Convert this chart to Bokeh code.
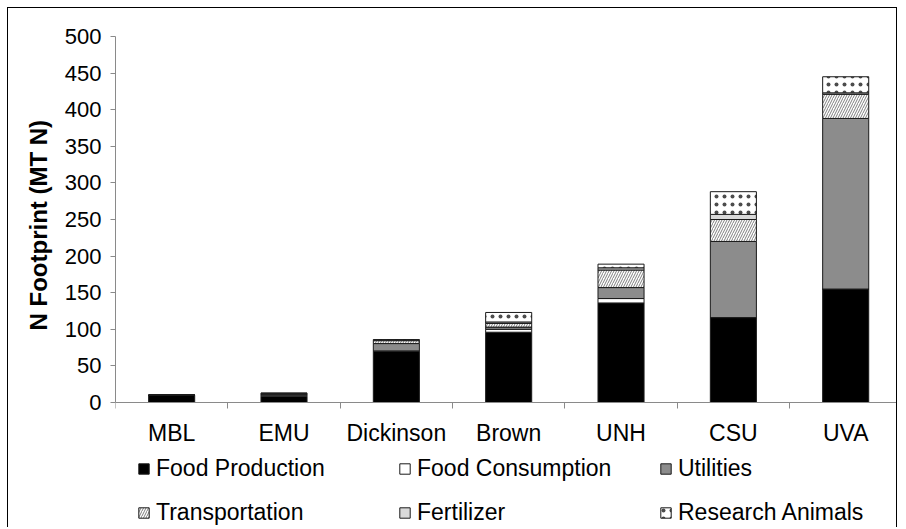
import numpy as np
from bokeh.plotting import figure
from bokeh.models import (Range1d, FixedTicker, Legend, LegendItem, Title)
from bokeh.embed import file_html
from bokeh.resources import INLINE

# ---- data ----
categories = ["MBL", "EMU", "Dickinson", "Brown", "UNH", "CSU", "UVA"]
food_production = [10, 8.5, 70, 96, 136, 116, 155]
food_consumption = [0, 1.5, 0.5, 4, 6, 0, 0]
utilities = [0, 1.5, 10, 3, 15, 104, 233]
transportation = [0, 0.5, 4, 5, 24, 30, 33]
fertilizer = [0, 0.5, 0.5, 2, 3, 7, 2]
research_animals = [0, 0.5, 1, 13, 5, 31, 22]
series_names = ["Food Production", "Food Consumption", "Utilities",
                "Transportation", "Fertilizer", "Research Animals"]
y_ticks = [0, 50, 100, 150, 200, 250, 300, 350, 400, 450, 500]
y_title = "N Footprint (MT N)"

series = [food_production, food_consumption, utilities,
          transportation, fertilizer, research_animals]
styles = [
    dict(fill_color="#000000"),
    dict(fill_color="#ffffff"),
    dict(fill_color="#8c8c8c"),
    dict(fill_color="#ffffff", hatch_pattern="/", hatch_color="#808080",
         hatch_scale=5, hatch_weight=1),
    dict(fill_color="#d9d9d9"),
    dict(fill_color="#ffffff", hatch_pattern=".", hatch_color="#000000",
         hatch_scale=8, hatch_weight=1, hatch_alpha=0.7),
]

FONT = "Liberation Sans"
AXIS_GRAY = "#8a8a8a"

# layout (pixels)
W, H = 890, 520
TOP, LEFT = 28, 107
PLOT_PX = 366.0            # pixels for 0..500
frame_h = H - TOP
y_top = y_ticks[-1]
y_min = y_top - frame_h * y_top / PLOT_PX

p = figure(width=W, height=H, output_backend="svg", toolbar_location=None,
           x_range=Range1d(0, len(categories) - 0.03), y_range=Range1d(y_min, y_top),
           min_border_left=LEFT, min_border_right=0, min_border_top=TOP,
           min_border_bottom=0)
p.styles = {"border-left": "1px solid #000", "border-top": "1px solid #000",
            "border-right": "1px solid #000", "margin-left": "7px",
            "margin-top": "7px"}
p.outline_line_color = None
p.xgrid.grid_line_color = None
p.ygrid.grid_line_color = None

centers = [i + 0.5 for i in range(len(categories))]
bottom = np.zeros(len(categories))
renderers = []
for vals, st in zip(series, styles):
    vals = np.array(vals, dtype=float)
    r = p.vbar(x=centers, width=0.41, bottom=bottom.copy(), top=bottom + vals,
               line_color="#1a1a1a", line_width=1, **st)
    renderers.append(r)
    bottom = bottom + vals

# x axis, pinned at y = 0
xa = p.xaxis[0]
xa.fixed_location = 0
xa.ticker = FixedTicker(ticks=centers, minor_ticks=list(range(len(categories) + 1)))
xa.major_label_overrides = {c: n for c, n in zip(centers, categories)}
xa.major_tick_out = 0
xa.major_tick_in = 0
xa.minor_tick_out = 6
xa.minor_tick_in = 0
xa.minor_tick_line_color = AXIS_GRAY
xa.axis_line_color = AXIS_GRAY
xa.major_label_text_font = FONT
xa.major_label_text_font_size = "23px"
xa.major_label_text_color = "#000000"
xa.major_label_standoff = 11

# y axis
ya = p.yaxis[0]
ya.bounds = (0, y_top)
ya.ticker = FixedTicker(ticks=y_ticks, minor_ticks=[])
ya.major_tick_out = 5
ya.major_tick_in = 0
ya.major_tick_line_color = AXIS_GRAY
ya.axis_line_color = AXIS_GRAY
ya.major_label_text_font = FONT
ya.major_label_text_font_size = "22px"
ya.major_label_text_color = "#000000"
ya.major_label_standoff = 9

# y title placed alongside the 0..500 part of the axis
p.add_layout(Title(text=y_title, align="left", offset=198, standoff=20,
                   text_font=FONT, text_font_size="24px", text_font_style="bold",
                   text_color="#000000"), "left")

legend = Legend(items=[LegendItem(label=n, renderers=[r]) for n, r in zip(series_names, renderers)],
                orientation="horizontal", ncols=3, location=(22, 2),
                spacing=17, label_width=225, glyph_width=13, glyph_height=13,
                label_standoff=6, padding=0, margin=0, border_line_color=None,
                background_fill_alpha=0, label_text_font=FONT,
                label_text_font_size="23px", label_text_color="#000000")
p.add_layout(legend)

open("out.html", "w").write(file_html(p, INLINE))
